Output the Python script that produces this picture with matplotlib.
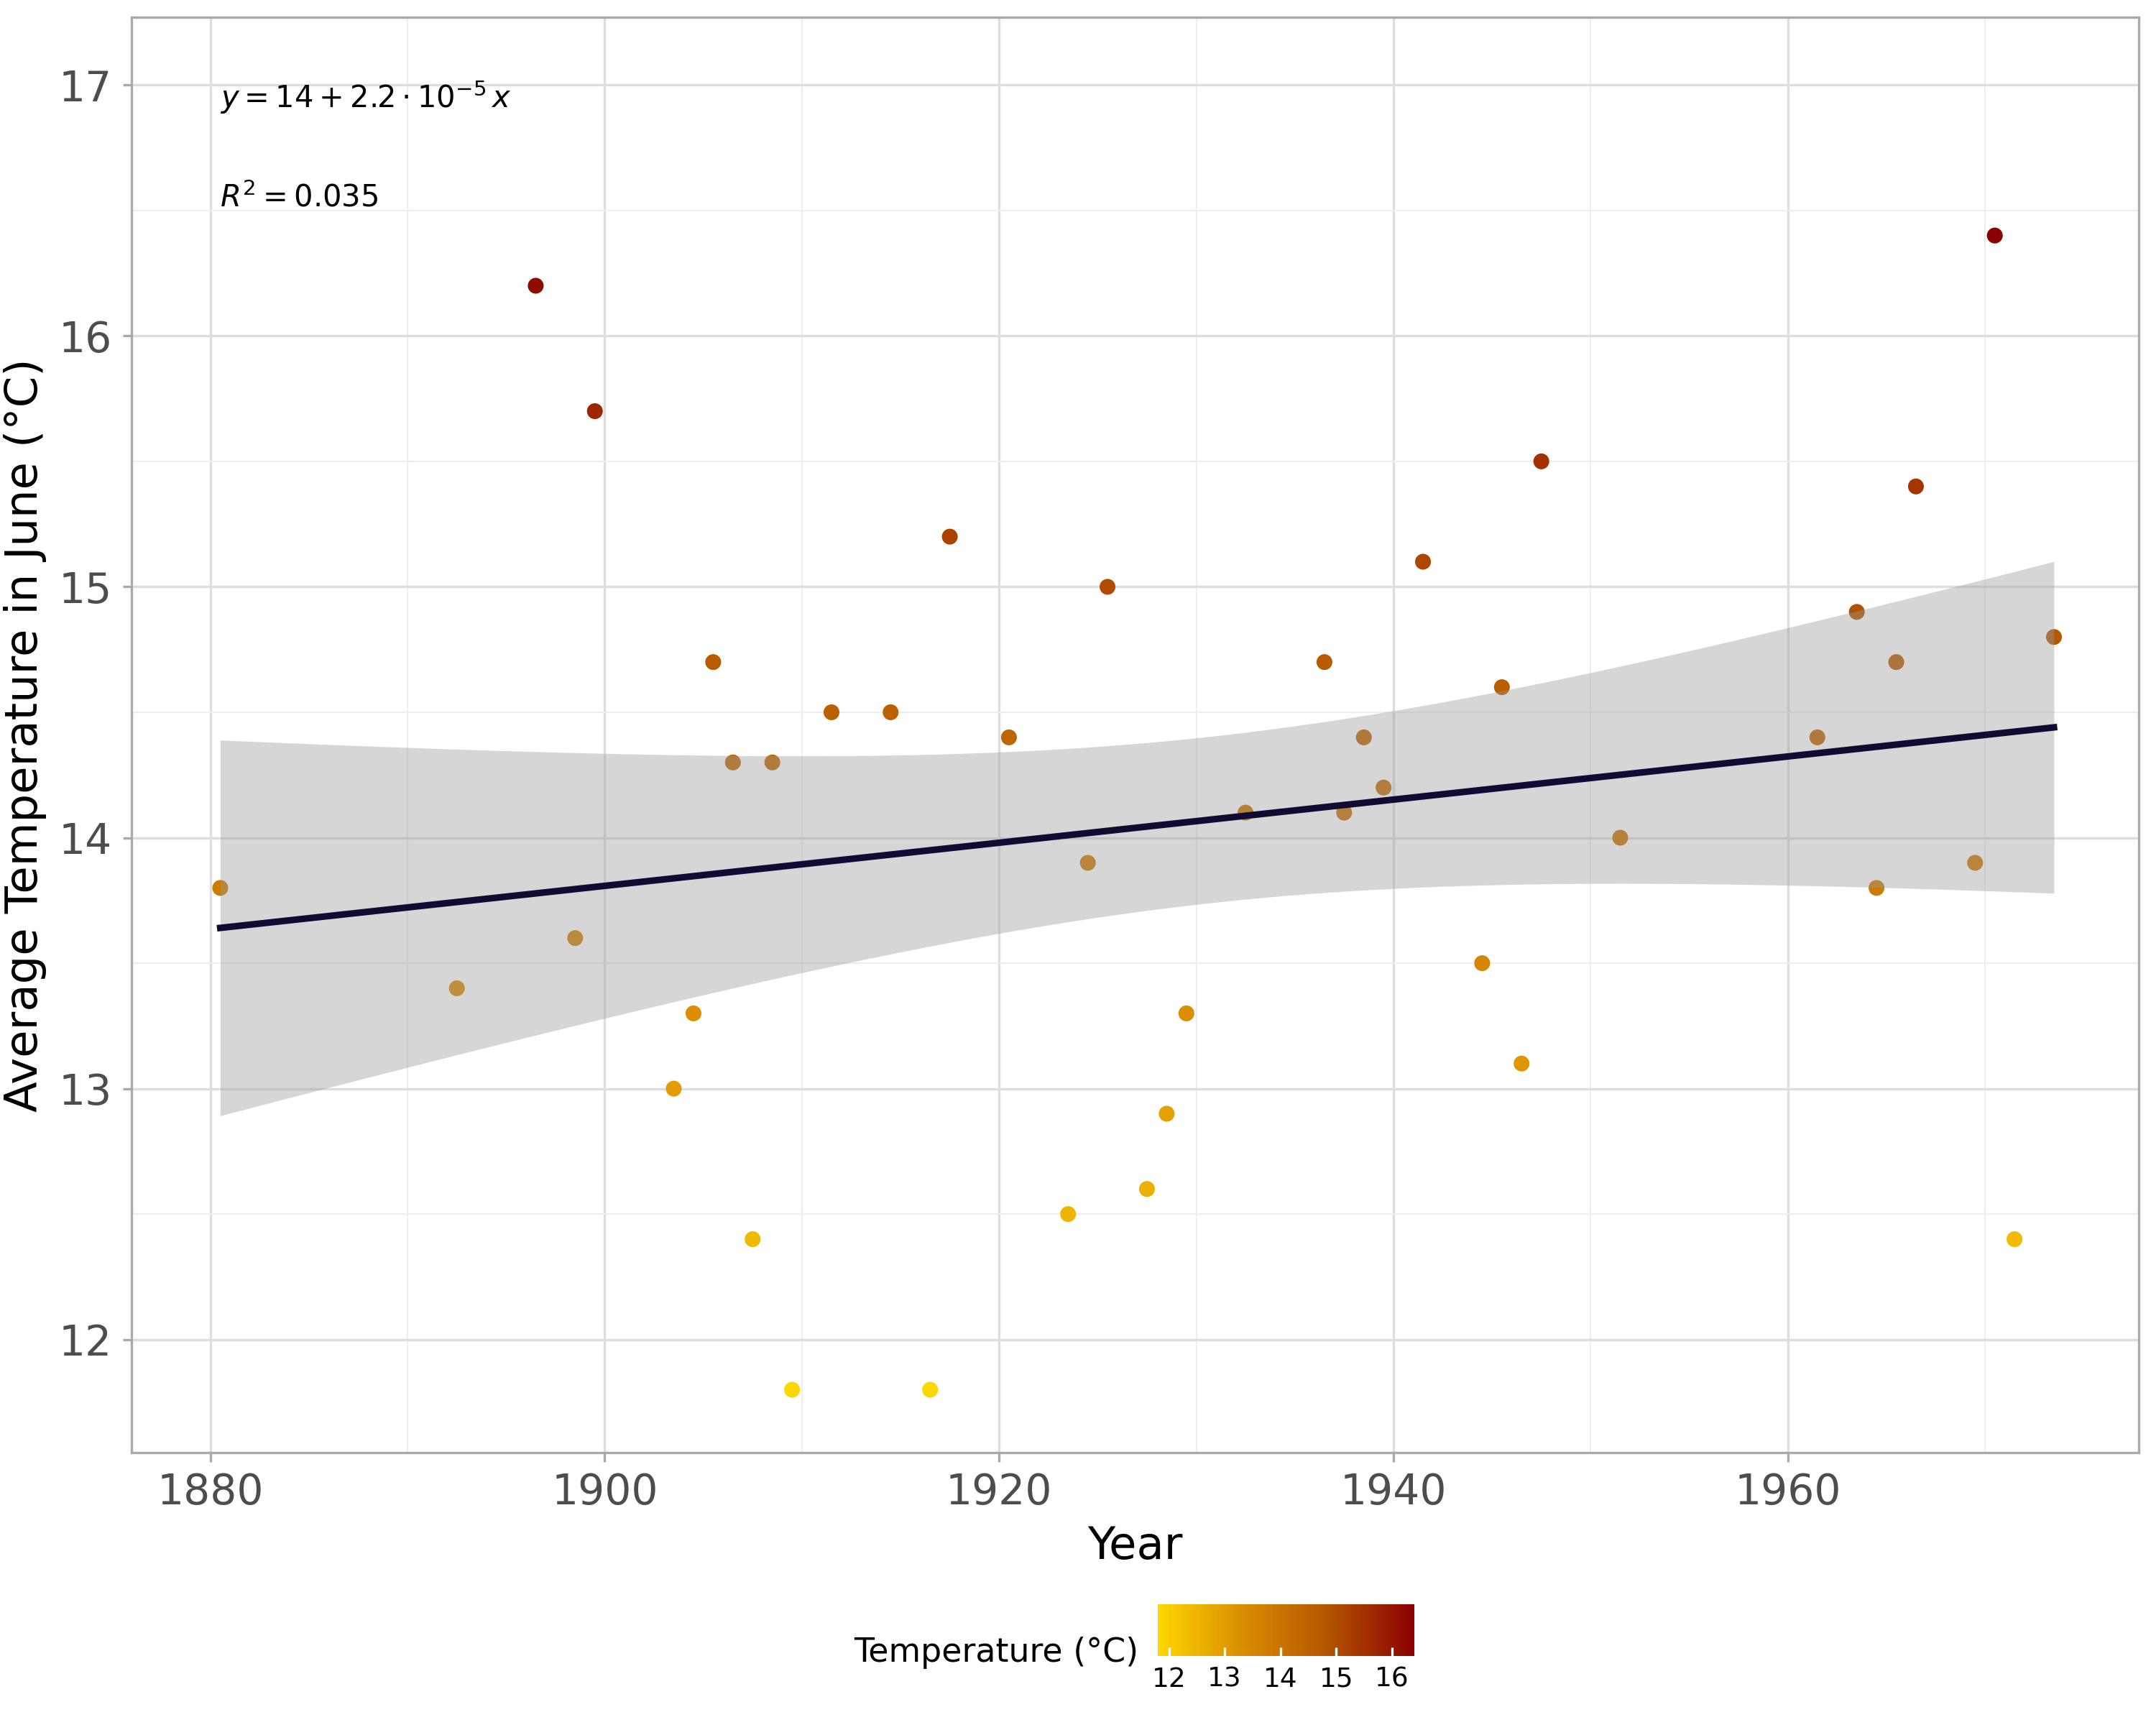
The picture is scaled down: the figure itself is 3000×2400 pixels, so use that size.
import numpy as np
import matplotlib
matplotlib.use("Agg")
import matplotlib.pyplot as plt
from matplotlib.colors import LinearSegmentedColormap, Normalize

years = [1880.5,1892.5,1896.5,1898.5,1899.5,1903.5,1904.5,1905.5,1906.5,1907.5,1908.5,1909.5,
         1911.5,1914.5,1916.5,1917.5,1920.5,1923.5,1924.5,1925.5,1927.5,1928.5,1929.5,1932.5,
         1936.5,1937.5,1938.5,1939.5,1941.5,1944.5,1945.5,1946.5,1947.5,1951.5,1961.5,1963.5,
         1964.5,1965.5,1966.5,1969.5,1970.5,1971.5,1973.5]
temps = [13.8,13.4,16.2,13.6,15.7,13.0,13.3,14.7,14.3,12.4,14.3,11.8,
         14.5,14.5,11.8,15.2,14.4,12.5,13.9,15.0,12.6,12.9,13.3,14.1,
         14.7,14.1,14.4,14.2,15.1,13.5,14.6,13.1,15.5,14.0,14.4,14.9,
         13.8,14.7,15.4,13.9,16.4,12.4,14.8]
x = np.array(years); y = np.array(temps)

cmap = LinearSegmentedColormap.from_list("t", ["#FFD700", "#D98C00", "#B35400", "#8B0000"])
norm = Normalize(vmin=11.8, vmax=16.4)

fig = plt.figure(figsize=(10, 8), dpi=300)
ax = fig.add_axes([0.061, 0.158, 0.931, 0.832])
sc = ax.scatter(x, y, c=y, cmap=cmap, norm=norm, s=28, zorder=2, edgecolors='none')

# linear fit + 95% CI
n = len(x)
b, a = np.polyfit(x, y, 1)
xs = np.linspace(x.min(), x.max(), 200)
ys = a + b*xs
res = y - (a + b*x)
s = np.sqrt(np.sum(res**2)/(n-2))
se = s*np.sqrt(1/n + (xs-x.mean())**2/np.sum((x-x.mean())**2))
t = 2.02
ax.fill_between(xs, ys-t*se, ys+t*se, color='#999999', alpha=0.4, lw=0, zorder=3)
ax.plot(xs, ys, color='#110b33', lw=2.2, zorder=4)

ax.text(1880.5, 16.95, r"$y = 14 + 2.2\cdot10^{-5}\,x$", fontsize=10, va='center')
ax.text(1880.5, 16.55, r"$R^2 = 0.035$", fontsize=10, va='center')

ax.set_xlim(1876, 1977.8)
ax.set_ylim(11.55, 17.27)
ax.set_xticks([1880,1900,1920,1940,1960])
ax.set_yticks([12,13,14,15,16,17])
ax.set_xticks(np.arange(1890, 1980, 20), minor=True)
ax.set_yticks(np.arange(12.5, 17.5, 1), minor=True)
ax.grid(True, which='major', color='#dedede', lw=0.8)
ax.grid(True, which='minor', color='#eeeeee', lw=0.5)
ax.set_axisbelow(True)
for sp in ax.spines.values():
    sp.set_color('#aaaaaa'); sp.set_linewidth(0.8)
ax.tick_params(which='both', length=3, color='#aaaaaa', labelsize=14, labelcolor='#4d4d4d')
ax.tick_params(which='minor', length=0)
ax.set_xlabel("Year", fontsize=15)
ax.set_ylabel("Average Temperature in June (°C)", fontsize=15)

cax = fig.add_axes([0.537, 0.04, 0.119, 0.03])
cb = fig.colorbar(sc, cax=cax, orientation='horizontal', ticks=[12,13,14,15,16])
cb.outline.set_visible(False)
cb.ax.tick_params(labelsize=9, length=3, color='white', direction='in')
fig.text(0.528, 0.042, "Temperature (°C)", fontsize=11, ha='right', va='center')

fig.savefig("out.png", dpi=300)
